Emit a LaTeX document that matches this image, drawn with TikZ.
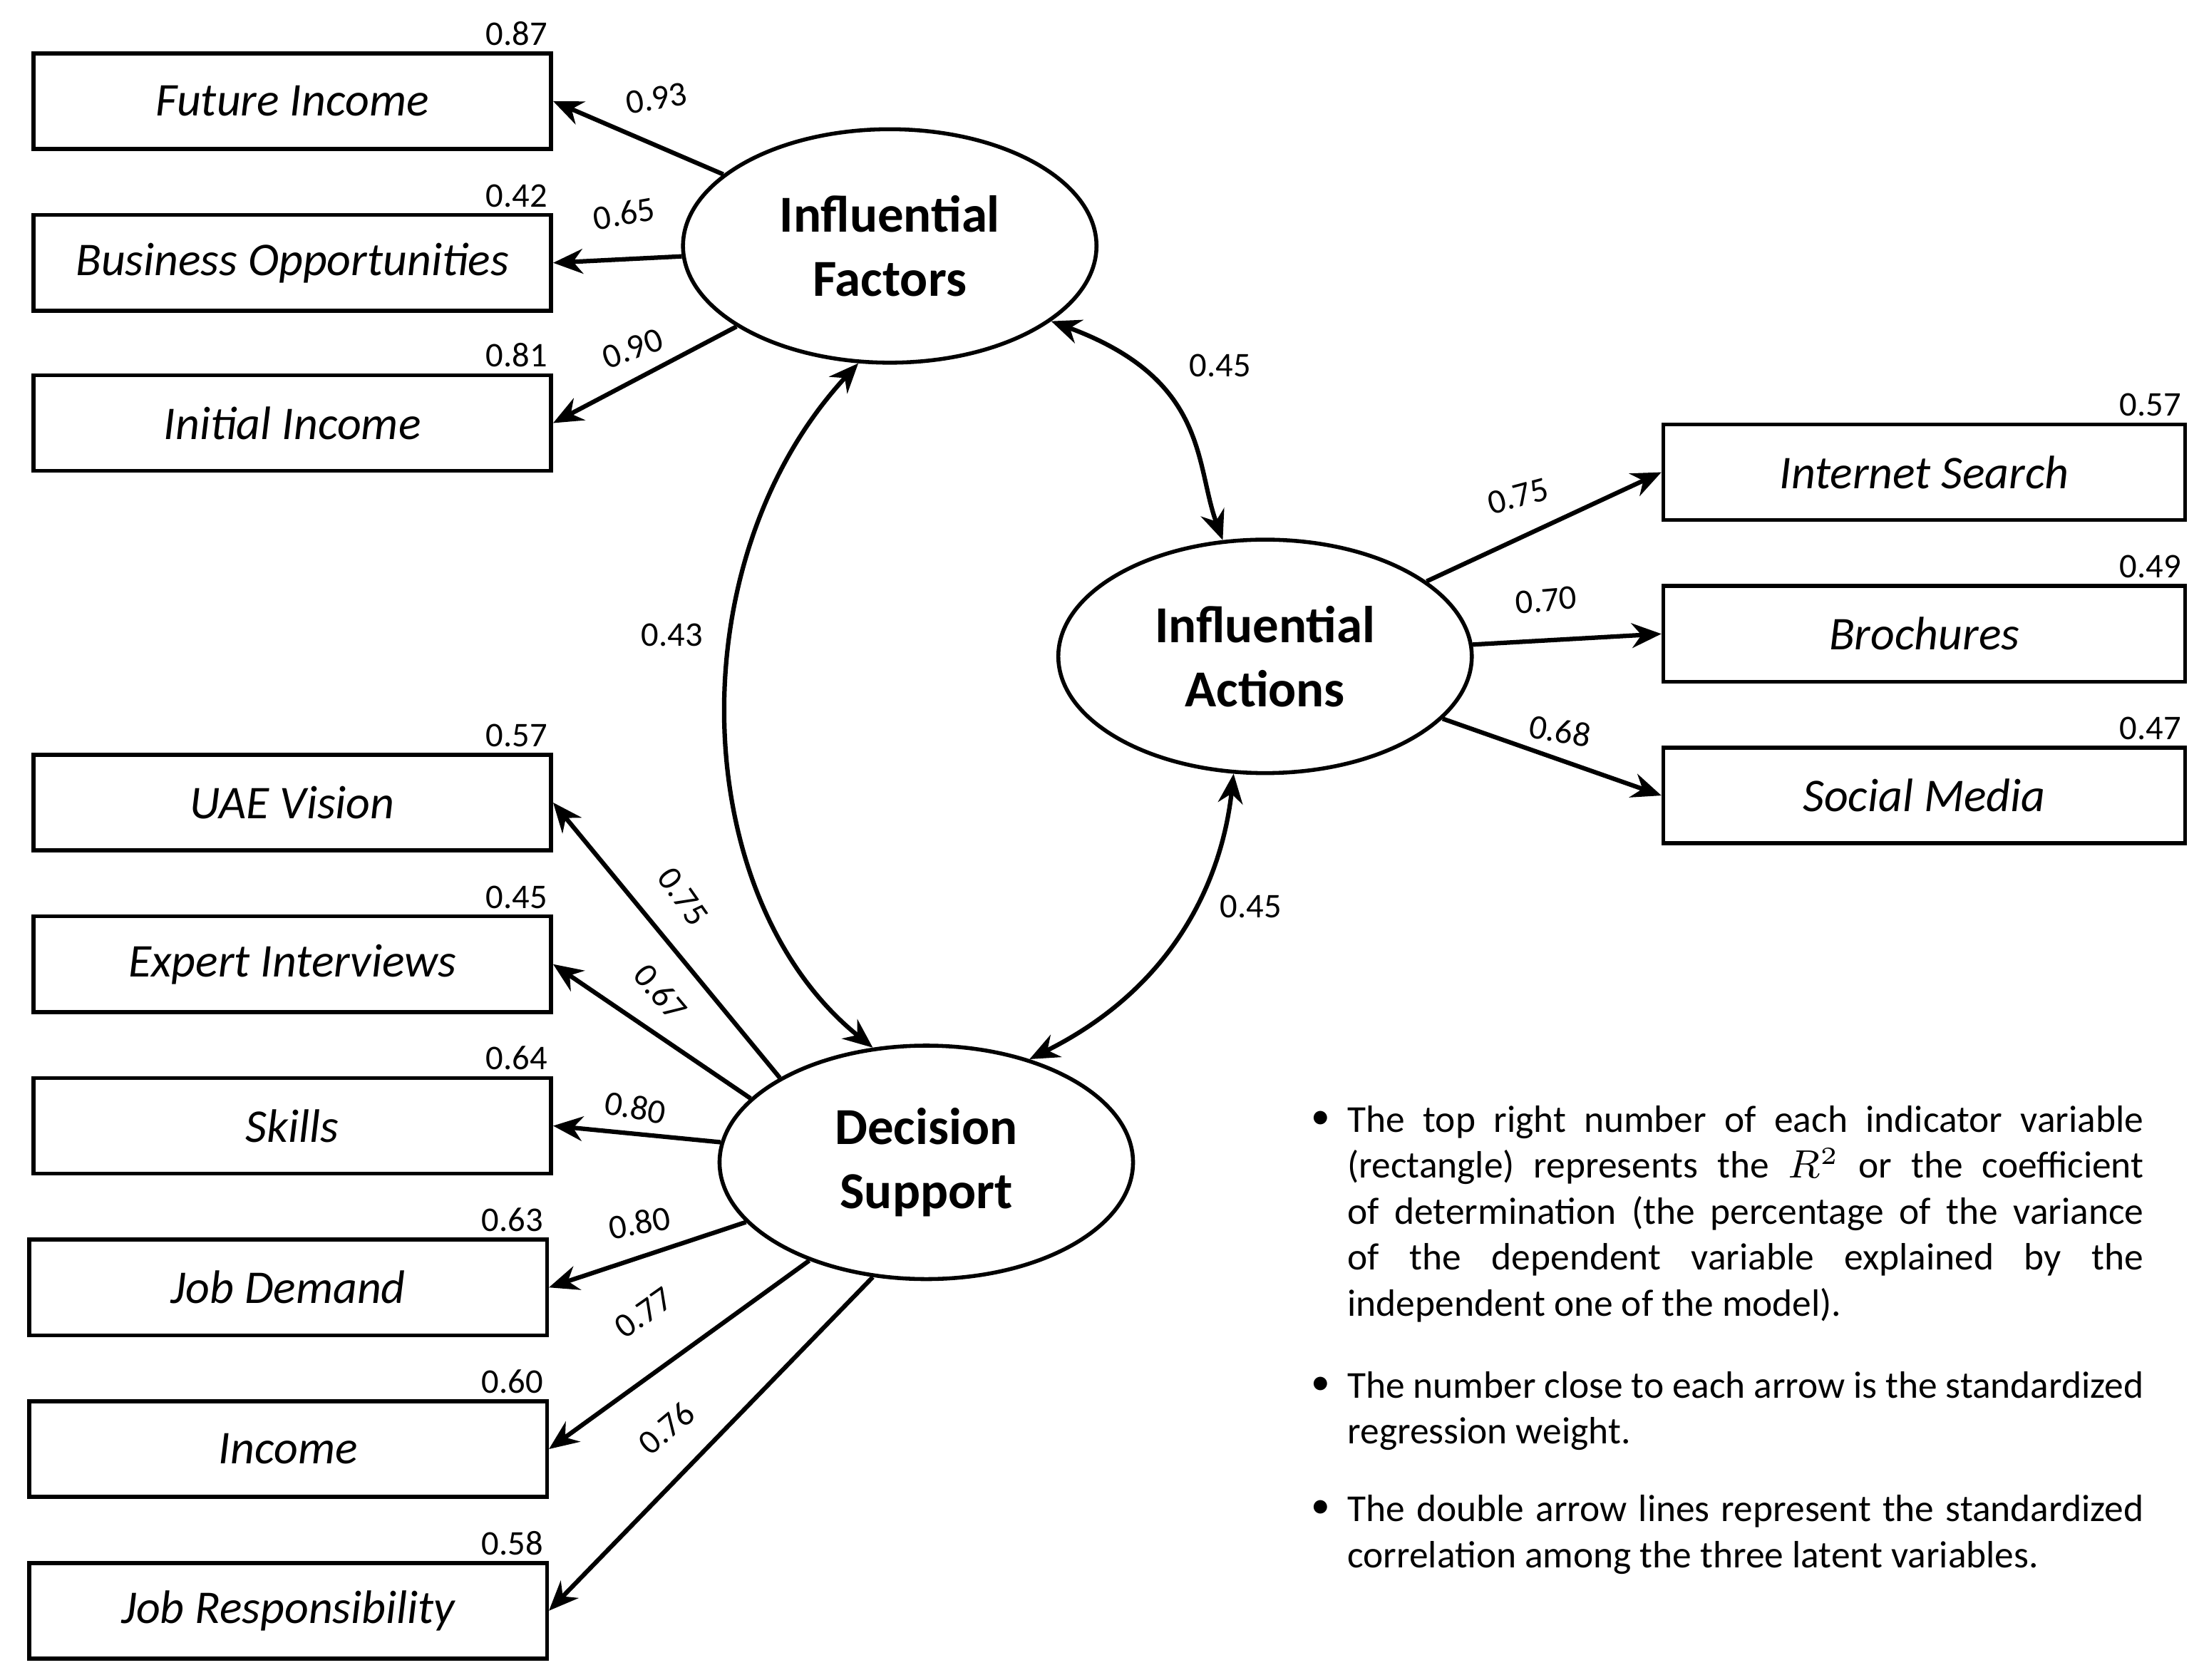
\documentclass[tikz,border=0pt]{standalone}
\usepackage{fontspec}
\setmainfont{Carlito}
\usetikzlibrary{shapes.geometric,arrows.meta}
\begin{document}
\begin{tikzpicture}[x=0.01cm,y=-0.01cm,
 box/.style={draw,line width=0.8pt,minimum width=3.68cm,minimum height=0.68cm,font=\fontsize{9.5}{11}\selectfont\itshape,inner sep=0},
 lat/.style={draw,ellipse,line width=0.8pt,minimum width=2.94cm,minimum height=1.66cm,align=center,font=\fontsize{10.5}{13}\selectfont\bfseries},
 r2/.style={font=\fontsize{7}{8}\selectfont,anchor=south east,inner sep=1pt},
 w/.style={font=\fontsize{7}{8}\selectfont,inner sep=1pt},
 arr/.style={-{Stealth[length=6pt,width=5pt]},line width=0.9pt},
 dar/.style={{Stealth[length=6pt,width=5pt]}-{Stealth[length=6pt,width=5pt]},line width=0.9pt}]
\useasboundingbox (0,0) rectangle (1568,1195);
% latent
\node[lat] (IF) at (633,175) {Influential\\Factors};
\node[lat] (IA) at (900,467) {Influential\\Actions};
\node[lat] (DS) at (659,827) {Decision\\Support};
% left boxes
\node[box] (b1) at (208,72) {Future Income};
\node[box] (b2) at (208,187) {Business Opportunities};
\node[box] (b3) at (208,301) {Initial Income};
\node[box] (b4) at (208,571) {UAE Vision};
\node[box] (b5) at (208,686) {Expert Interviews};
\node[box] (b6) at (208,801) {Skills};
\node[box] (b7) at (205,916) {Job Demand};
\node[box] (b8) at (205,1031) {Income};
\node[box] (b9) at (205,1146) {Job Responsibility};
% right boxes
\node[box,minimum width=3.71cm] (c1) at (1369,336) {Internet Search};
\node[box,minimum width=3.71cm] (c2) at (1369,451) {Brochures};
\node[box,minimum width=3.71cm] (c3) at (1369,566) {Social Media};
% R2
\foreach \n/\v in {b1/0.87,b2/0.42,b3/0.81,b4/0.57,b5/0.45,b6/0.64,b7/0.63,b8/0.60,b9/0.58,c1/0.57,c2/0.49,c3/0.47}
  \node[r2] at (\n.north east) {\v};
% arrows
\draw[arr] (IF) -- (b1.east);
\draw[arr] (IF) -- (b2.east);
\draw[arr] (IF) -- (b3.east);
\draw[arr] (DS.150) -- (b4.east);
\draw[arr] (DS.160) -- (b5.east);
\draw[arr] (DS) -- (b6.east);
\draw[arr] (DS) -- (b7.east);
\draw[arr] (DS.220) -- (b8.east);
\draw[arr] (DS.245) -- (b9.east);
\draw[arr] (IA) -- (c1.west);
\draw[arr] (IA) -- (c2.west);
\draw[arr] (IA) -- (c3.west);
% weights
\node[w,rotate=10] at (467,70) {0.93};
\node[w,rotate=10] at (444,152) {0.65};
\node[w,rotate=20] at (450,248) {0.90};
\node[w,rotate=-55] at (486,638) {0.75};
\node[w,rotate=-50] at (470,706) {0.67};
\node[w,rotate=-10] at (452,788) {0.80};
\node[w,rotate=10] at (455,870) {0.80};
\node[w,rotate=35] at (458,934) {0.77};
\node[w,rotate=40] at (474,1016) {0.76};
\node[w,rotate=15] at (1080,353) {0.75};
\node[w,rotate=5] at (1100,427) {0.70};
\node[w,rotate=-10] at (1110,520) {0.68};
% correlations
\draw[dar] (IF.-25) .. controls (860,270) and (850,330) .. (IA.110);
\draw[dar] (IF.-105) .. controls (480,400) and (490,640) .. (DS.115);
\draw[dar] (IA.-105) .. controls (870,620) and (840,700) .. (DS.45);
\node[w] at (868,260) {0.45};
\node[w] at (478,452) {0.43};
\node[w] at (890,645) {0.45};
% notes
\begin{scope}[every node/.style={font=\fontsize{7.7}{9.3}\selectfont,anchor=north west,inner sep=0},
  note/.style={text width=5.66cm,align=justify,execute at begin node={\hyphenpenalty=10000\relax\exhyphenpenalty=10000\relax}}]
\node at (932,790) {\textbullet}; \node[note] (n1) at (958,786) {The top right number of each indicator variable (rectangle) represents the $R^2$ or the coefficient of determination (the percentage of the variance of the dependent variable explained by the independent one of the model).};
\node at (932,979) {\textbullet}; \node[note] (n2) at (958,975) {The number close to each arrow is the standardized regression weight.};
\node at (932,1067) {\textbullet}; \node[note] (n3) at (958,1063) {The double arrow lines represent the standardized correlation among the three latent variables.};
\end{scope}
\end{tikzpicture}
\end{document}
